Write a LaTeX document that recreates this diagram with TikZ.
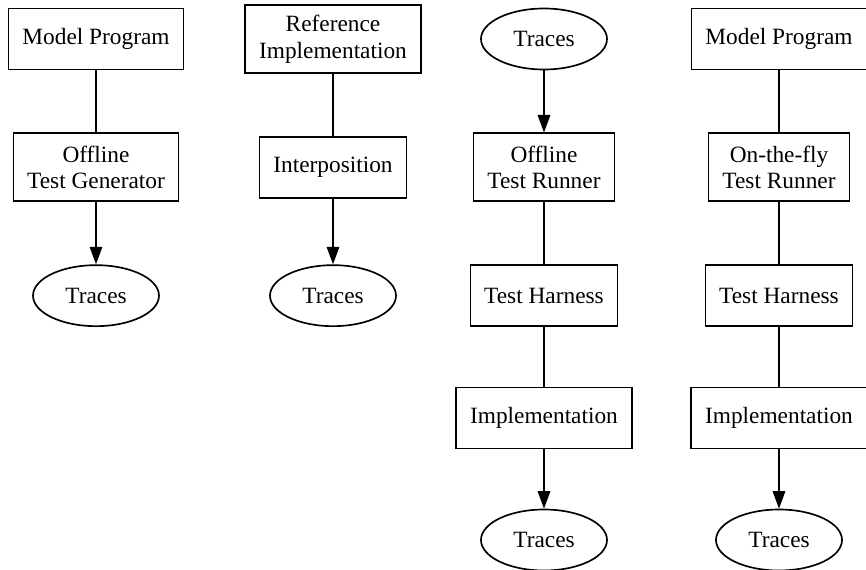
\documentclass[tikz,border=0pt]{standalone}
\usepackage{fontspec}
\setmainfont{Liberation Serif}
\usetikzlibrary{shapes.geometric, arrows.meta}
\tikzstyle{block} = [rectangle, 
minimum height=36.6pt, 
inner xsep=8.3pt, 
inner ysep=4.6pt, 
align=center, 
draw=black, 
line width=1pt, 
font=\fontsize{14}{16}\selectfont]
\tikzstyle{twoline} = [block, minimum height=40.8pt]
\tikzstyle{trace} = [ellipse, 
minimum width=75.6pt, 
minimum height=36.6pt, 
inner sep=0pt, 
draw=black, 
line width=1pt, 
font=\fontsize{14}{16}\selectfont]
\tikzstyle{line} = [line width=1pt]
\tikzstyle{arrow} = [line width=1pt,-{Triangle[length=10.5pt,width=7.5pt]}]
\begin{document}
\begin{tikzpicture}[node distance=77pt]
		\useasboundingbox (-57.6pt,23.4pt) rectangle (462pt,-318.6pt);
		
		% offline generation
		\node (mp1) [block] {Model Program};
		\node (gen) [twoline, below of=mp1] {Offline\\Test Generator};
		\node (tr1) [trace, below of=gen] {Traces};
		
		% capture
		\node (ref) [twoline, right of=mp1, xshift=65.2pt] {Reference\\Implementation};
		\node (intp) [block, below of=ref] {Interposition};
		\node (tr2) [trace, below of=intp] {Traces};
		
		% offline run
		\node (tr3) [trace, right of=ref, xshift=49.6pt] {Traces};
		\node (off) [twoline, below of=tr3] {Offline\\Test Runner};
		\node (har1) [block, below of=off] {Test Harness};
		\node (imp1) [block, below of=har1, yshift=3.6pt] {Implementation};
		\node (tr4) [trace, below of=imp1, yshift=3.8pt] {Traces};
		
		% on-the-fly run
		\node (mp2) [block, right of=tr3, xshift=64pt] {Model Program};
		\node (fly) [twoline, below of=mp2] {On-the-fly\\Test Runner};
		\node (har2) [block, below of=fly] {Test Harness};
		\node (imp2) [block, below of=har2, yshift=3.6pt] {Implementation};
		\node (tr5) [trace, below of=imp2, yshift=3.8pt] {Traces};
		
		\draw [line] (mp1) -- (gen);
		\draw [arrow] (gen) -- (tr1);
		
		\draw [line] (ref) -- (intp);
		\draw [arrow] (intp) -- (tr2);
		
		\draw [arrow] (tr3) -- (off);
		\draw [line] (off) -- (har1);
		\draw [line] (har1) -- (imp1);
		\draw [arrow] (imp1) -- (tr4);
		
		\draw [line] (mp2) -- (fly);
		\draw [line] (fly) -- (har2);
		\draw [line] (har2) -- (imp2);
		\draw [arrow] (imp2) -- (tr5);
		
	\end{tikzpicture}
\end{document}
